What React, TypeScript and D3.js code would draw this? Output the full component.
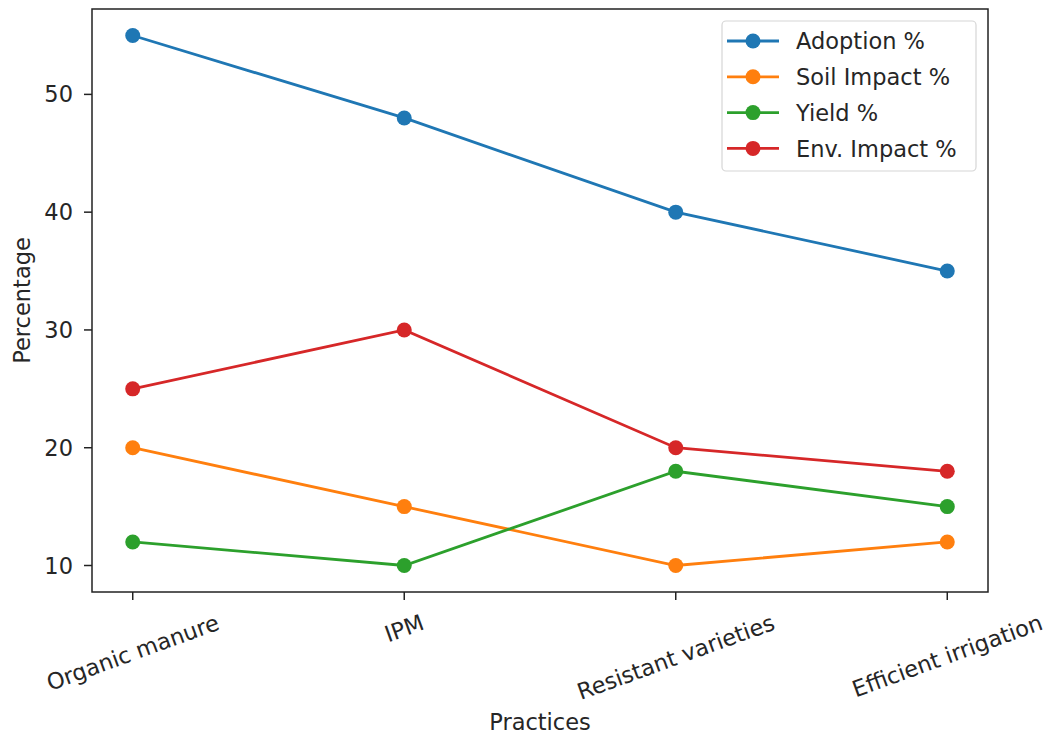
import React, { useEffect, useRef } from 'react';
import * as d3 from 'd3';

const practices = ['Organic manure', 'IPM', 'Resistant varieties', 'Efficient irrigation'];
const adoption = [55, 48, 40, 35];
const soilImpact = [20, 15, 10, 12];
const yieldPct = [12, 10, 18, 15];
const envImpact = [25, 30, 20, 18];
const yTicks = [10, 20, 30, 40, 50];

const seriesList = [
  { name: 'Adoption %', values: adoption, color: '#1f77b4' },
  { name: 'Soil Impact %', values: soilImpact, color: '#ff7f0e' },
  { name: 'Yield %', values: yieldPct, color: '#2ca02c' },
  { name: 'Env. Impact %', values: envImpact, color: '#d62728' },
];

const W = 1049;
const H = 738;
const FONT = 'DejaVu Sans, sans-serif';
const FS = 22.5;
const TEXT = '#262626';

export default function App() {
  const svgRef = useRef<SVGSVGElement>(null);

  useEffect(() => {
    if (!svgRef.current) return;
    const svg = d3.select(svgRef.current);
    svg.selectAll('*').remove();

    const left = 92, right = 988, top = 9, bottom = 592;

    // matplotlib style auto-limits with 5% margins
    const all = seriesList.flatMap((s) => s.values);
    const lo = d3.min(all)!, hi = d3.max(all)!;
    const pad = (hi - lo) * 0.05;
    const y = d3.scaleLinear().domain([lo - pad, hi + pad]).range([bottom, top]);
    const n = practices.length;
    const x = d3.scaleLinear().domain([-0.15, n - 1 + 0.15]).range([left, right]);

    // Lines and markers
    const line = d3.line<number>().x((_, i) => x(i)).y((d) => y(d));
    seriesList.forEach((s) => {
      svg.append('path')
        .datum(s.values)
        .attr('fill', 'none')
        .attr('stroke', s.color)
        .attr('stroke-width', 2.8)
        .attr('d', line);
      svg.selectAll(null)
        .data(s.values)
        .enter()
        .append('circle')
        .attr('cx', (_, i) => x(i))
        .attr('cy', (d) => y(d))
        .attr('r', 7.5)
        .attr('fill', s.color);
    });

    // Frame
    svg.append('rect')
      .attr('x', left)
      .attr('y', top)
      .attr('width', right - left)
      .attr('height', bottom - top)
      .attr('fill', 'none')
      .attr('stroke', '#222')
      .attr('stroke-width', 1.5);

    // Y ticks
    yTicks.forEach((t) => {
      svg.append('line')
        .attr('x1', left - 8).attr('x2', left)
        .attr('y1', y(t)).attr('y2', y(t))
        .attr('stroke', '#222').attr('stroke-width', 1.5);
      svg.append('text')
        .attr('x', left - 19)
        .attr('y', y(t))
        .attr('dy', '0.36em')
        .attr('text-anchor', 'end')
        .attr('font-family', FONT)
        .attr('font-size', FS)
        .attr('fill', TEXT)
        .text(t);
    });

    // X ticks with rotated labels
    practices.forEach((p, i) => {
      const cx = x(i);
      svg.append('line')
        .attr('x1', cx).attr('x2', cx)
        .attr('y1', bottom).attr('y2', bottom + 8)
        .attr('stroke', '#222').attr('stroke-width', 1.5);
      const t = svg.append('text')
        .attr('x', 0)
        .attr('y', 0)
        .attr('text-anchor', 'middle')
        .attr('dy', '0.35em')
        .attr('font-family', FONT)
        .attr('font-size', FS)
        .attr('fill', TEXT)
        .text(p);
      const w = (t.node() as SVGTextElement).getComputedTextLength();
      const h = FS * 0.9;
      const a = (20 * Math.PI) / 180;
      const bh = w * Math.sin(a) + h * Math.cos(a);
      const cy = bottom + 20 + bh / 2;
      t.attr('transform', `translate(${cx},${cy}) rotate(-20)`);
    });

    // Axis titles
    svg.append('text')
      .attr('x', (left + right) / 2)
      .attr('y', 730)
      .attr('text-anchor', 'middle')
      .attr('font-family', FONT)
      .attr('font-size', FS)
      .attr('fill', TEXT)
      .text('Practices');

    svg.append('text')
      .attr('transform', `translate(29.5,${(top + bottom) / 2}) rotate(-90)`)
      .attr('text-anchor', 'middle')
      .attr('font-family', FONT)
      .attr('font-size', FS)
      .attr('fill', TEXT)
      .text('Percentage');

    // Legend
    const lg = svg.append('g');
    lg.append('rect')
      .attr('x', 722)
      .attr('y', 21)
      .attr('width', 254)
      .attr('height', 150)
      .attr('rx', 4)
      .attr('fill', '#fff')
      .attr('fill-opacity', 0.8)
      .attr('stroke', '#d6d6d6')
      .attr('stroke-width', 1.2);
    seriesList.forEach((s, i) => {
      const ly = 41 + i * 35.8;
      lg.append('line')
        .attr('x1', 727).attr('x2', 779)
        .attr('y1', ly).attr('y2', ly)
        .attr('stroke', s.color).attr('stroke-width', 2.8);
      lg.append('circle')
        .attr('cx', 753).attr('cy', ly).attr('r', 7.5)
        .attr('fill', s.color);
      lg.append('text')
        .attr('x', 796)
        .attr('y', ly)
        .attr('dy', '0.36em')
        .attr('font-family', FONT)
        .attr('font-size', FS)
        .attr('fill', TEXT)
        .text(s.name);
    });
  }, []);

  return (
    <svg
      ref={svgRef}
      width={W}
      height={H}
      style={{ position: 'absolute', left: 0, top: 0, background: '#fff' }}
    />
  );
}
